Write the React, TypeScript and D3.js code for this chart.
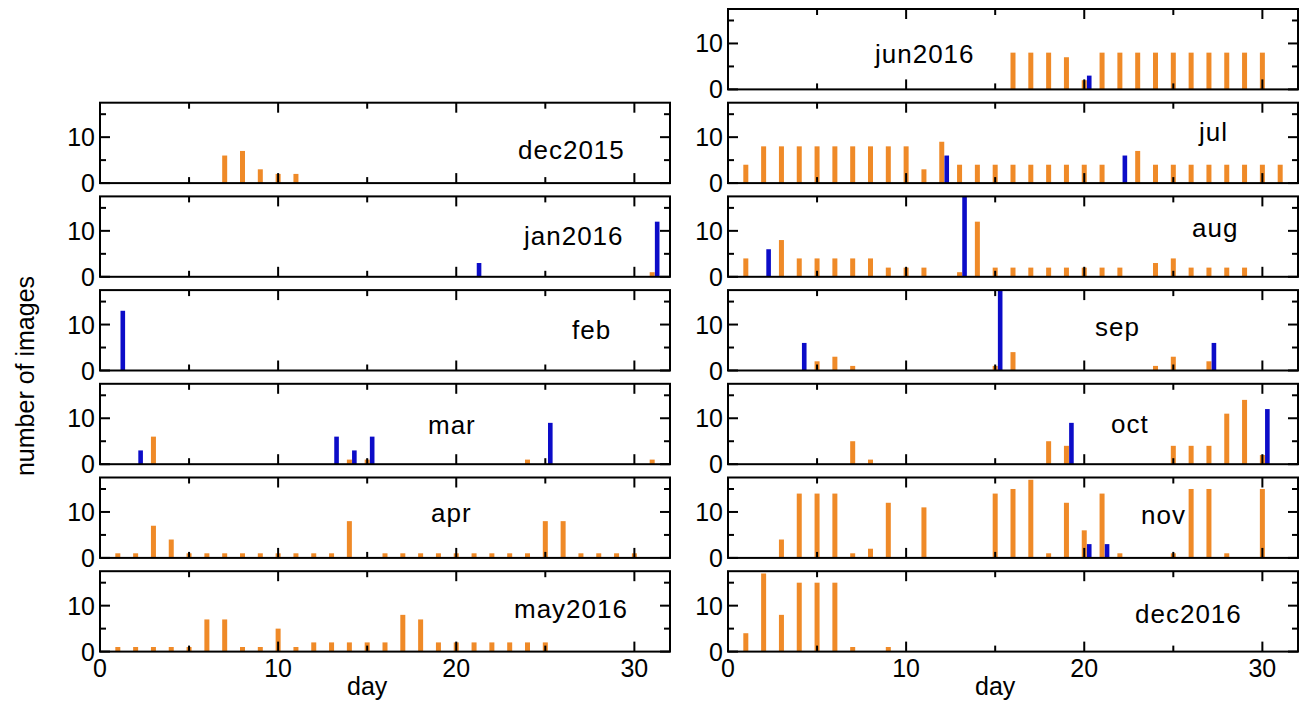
import React, { useEffect, useRef } from "react";
import * as d3 from "d3";

// [day, number of images]
type Bar = [number, number];

const dec2015Orange: Bar[] = [[7, 6], [8, 7], [9, 3], [10, 2], [11, 2]];
const dec2015Blue: Bar[] = [];

const jan2016Orange: Bar[] = [[31, 1]];
const jan2016Blue: Bar[] = [[21, 3], [31, 12]];

const febOrange: Bar[] = [];
const febBlue: Bar[] = [[1, 13]];

const marOrange: Bar[] = [[3, 6], [14, 1], [15, 1], [24, 1], [31, 1]];
const marBlue: Bar[] = [[2, 3], [13, 6], [14, 3], [15, 6], [25, 9]];

const aprOrange: Bar[] = [
  [1, 1], [2, 1], [3, 7], [4, 4], [5, 1], [6, 1], [7, 1], [8, 1], [9, 1], [10, 1],
  [11, 1], [12, 1], [13, 1], [14, 8], [16, 1], [17, 1], [18, 1], [19, 1], [20, 1],
  [21, 1], [22, 1], [23, 1], [24, 1], [25, 8], [26, 8], [27, 1], [28, 1], [29, 1], [30, 1],
];
const aprBlue: Bar[] = [];

const may2016Orange: Bar[] = [
  [1, 1], [2, 1], [3, 1], [4, 1], [5, 1], [6, 7], [7, 7], [8, 1], [9, 1], [10, 5],
  [11, 1], [12, 2], [13, 2], [14, 2], [15, 2], [16, 2], [17, 8], [18, 7], [19, 2],
  [20, 2], [21, 2], [22, 2], [23, 2], [24, 2], [25, 2],
];
const may2016Blue: Bar[] = [];

const jun2016Orange: Bar[] = [
  [16, 8], [17, 8], [18, 8], [19, 7], [20, 2], [21, 8], [22, 8], [23, 8], [24, 8],
  [25, 8], [26, 8], [27, 8], [28, 8], [29, 8], [30, 8],
];
const jun2016Blue: Bar[] = [[20, 3]];

const julOrange: Bar[] = [
  [1, 4], [2, 8], [3, 8], [4, 8], [5, 8], [6, 8], [7, 8], [8, 8], [9, 8], [10, 8],
  [11, 3], [12, 9], [13, 4], [14, 4], [15, 4], [16, 4], [17, 4], [18, 4], [19, 4],
  [20, 4], [21, 4], [23, 7], [24, 4], [25, 4], [26, 4], [27, 4], [28, 4], [29, 4],
  [30, 4], [31, 4],
];
const julBlue: Bar[] = [[12, 6], [22, 6]];

const augOrange: Bar[] = [
  [1, 4], [3, 8], [4, 4], [5, 4], [6, 4], [7, 4], [8, 4], [9, 2], [10, 2], [11, 2],
  [13, 1], [14, 12], [15, 2], [16, 2], [17, 2], [18, 2], [19, 2], [20, 2], [21, 2],
  [22, 2], [24, 3], [25, 4], [26, 2], [27, 2], [28, 2], [29, 2],
];
const augBlue: Bar[] = [[2, 6], [13, 19]];

const sepOrange: Bar[] = [[5, 2], [6, 3], [7, 1], [15, 1], [16, 4], [24, 1], [25, 3], [27, 2]];
const sepBlue: Bar[] = [[4, 6], [15, 19], [27, 6]];

const octOrange: Bar[] = [
  [7, 5], [8, 1], [18, 5], [19, 4], [25, 4], [26, 4], [27, 4], [28, 11], [29, 14], [30, 2],
];
const octBlue: Bar[] = [[19, 9], [30, 12]];

const novOrange: Bar[] = [
  [3, 4], [4, 14], [5, 14], [6, 14], [7, 1], [8, 2], [9, 12], [11, 11], [15, 14],
  [16, 15], [17, 17], [18, 1], [19, 12], [20, 6], [21, 14], [22, 1], [25, 1],
  [26, 15], [27, 15], [28, 1], [30, 15],
];
const novBlue: Bar[] = [[20, 3], [21, 3]];

const dec2016Orange: Bar[] = [[1, 4], [2, 17], [3, 8], [4, 15], [5, 15], [6, 15], [7, 1], [9, 1]];
const dec2016Blue: Bar[] = [];

const xTicks = [0, 5, 10, 15, 20, 25, 30];
const xTickLabels = [0, 10, 20, 30];
const yTicks = [0, 5, 10, 15];
const yTickLabels = [0, 10];

// col, row, label x (px from panel left), label baseline (px above zero line)
const panels = [
  { name: "dec2015", orange: dec2015Orange, blue: dec2015Blue, col: 0, row: 1, lx: 418, lb: 24 },
  { name: "jan2016", orange: jan2016Orange, blue: jan2016Blue, col: 0, row: 2, lx: 424, lb: 32 },
  { name: "feb", orange: febOrange, blue: febBlue, col: 0, row: 3, lx: 472, lb: 32 },
  { name: "mar", orange: marOrange, blue: marBlue, col: 0, row: 4, lx: 328, lb: 30 },
  { name: "apr", orange: aprOrange, blue: aprBlue, col: 0, row: 5, lx: 331, lb: 36 },
  { name: "may2016", orange: may2016Orange, blue: may2016Blue, col: 0, row: 6, lx: 414, lb: 34 },
  { name: "jun2016", orange: jun2016Orange, blue: jun2016Blue, col: 1, row: 0, lx: 147, lb: 26 },
  { name: "jul", orange: julOrange, blue: julBlue, col: 1, row: 1, lx: 471, lb: 42 },
  { name: "aug", orange: augOrange, blue: augBlue, col: 1, row: 2, lx: 464, lb: 40 },
  { name: "sep", orange: sepOrange, blue: sepBlue, col: 1, row: 3, lx: 367, lb: 35 },
  { name: "oct", orange: octOrange, blue: octBlue, col: 1, row: 4, lx: 383, lb: 31 },
  { name: "nov", orange: novOrange, blue: novBlue, col: 1, row: 5, lx: 413, lb: 34 },
  { name: "dec2016", orange: dec2016Orange, blue: dec2016Blue, col: 1, row: 6, lx: 407, lb: 29 },
];

const ORANGE = "#ef8a28";
const BLUE = "#0c0cc8";
const FONT = "'Liberation Sans', Arial, sans-serif";

const App = () => {
  const svgRef = useRef<SVGSVGElement>(null);

  useEffect(() => {
    document.body.style.margin = "0";
    const svg = d3.select(svgRef.current);
    svg.selectAll("*").remove();

    const colX = [100, 728];
    const colW = 570;
    const panelH = 80.4;
    const rowStep = 93.7;
    const top0 = 9;

    panels.forEach((p) => {
      const left = colX[p.col];
      const top = top0 + p.row * rowStep;
      const x = d3.scaleLinear().domain([0, 32]).range([left, left + colW]);
      const y = d3.scaleLinear().domain([0, 17.5]).range([top + panelH, top]).clamp(true);
      const g = svg.append("g");

      // bars
      g.selectAll(".o")
        .data(p.orange)
        .enter()
        .append("rect")
        .attr("x", (d) => x(d[0]) - 2.5)
        .attr("width", 5)
        .attr("y", (d) => y(d[1]))
        .attr("height", (d) => y(0) - y(d[1]))
        .attr("fill", ORANGE);
      g.selectAll(".b")
        .data(p.blue)
        .enter()
        .append("rect")
        .attr("x", (d) => x(d[0] + 0.28) - 2.3)
        .attr("width", 4.6)
        .attr("y", (d) => y(d[1]))
        .attr("height", (d) => y(0) - y(d[1]))
        .attr("fill", BLUE);

      // inward ticks on all four sides
      xTicks.forEach((t) => {
        const len = t % 10 === 0 ? 10 : 6;
        g.append("line").attr("x1", x(t)).attr("x2", x(t)).attr("y1", y(0)).attr("y2", y(0) - len);
        g.append("line").attr("x1", x(t)).attr("x2", x(t)).attr("y1", top).attr("y2", top + len);
      });
      yTicks.forEach((t) => {
        const len = t % 10 === 0 ? 10 : 6;
        g.append("line").attr("x1", left).attr("x2", left + len).attr("y1", y(t)).attr("y2", y(t));
        g.append("line").attr("x1", left + colW).attr("x2", left + colW - len).attr("y1", y(t)).attr("y2", y(t));
      });
      g.selectAll("line").attr("stroke", "#000").attr("stroke-width", 2);

      g.append("rect")
        .attr("x", left)
        .attr("y", top)
        .attr("width", colW)
        .attr("height", panelH)
        .attr("fill", "none")
        .attr("stroke", "#000")
        .attr("stroke-width", 2);

      // y tick labels
      yTickLabels.forEach((t) => {
        g.append("text")
          .attr("x", left - 5)
          .attr("y", y(t))
          .attr("dy", "0.36em")
          .attr("text-anchor", "end")
          .attr("font-family", FONT)
          .attr("font-size", 25)
          .text(t);
      });

      // month label
      g.append("text")
        .attr("x", left + p.lx)
        .attr("y", y(0) - p.lb)
        .attr("font-family", FONT)
        .attr("font-size", 26)
        .attr("letter-spacing", 1)
        .text(p.name);

      // bottom panels get the day axis
      if (p.row === 6) {
        xTickLabels.forEach((t) => {
          g.append("text")
            .attr("x", x(t))
            .attr("y", 677)
            .attr("text-anchor", "middle")
            .attr("font-family", FONT)
            .attr("font-size", 25)
            .text(t);
        });
        g.append("text")
          .attr("x", x(15))
          .attr("y", 695)
          .attr("text-anchor", "middle")
          .attr("font-family", FONT)
          .attr("font-size", 25)
          .text("day");
      }
    });

    svg
      .append("text")
      .attr("transform", "translate(34,376) rotate(-90)")
      .attr("text-anchor", "middle")
      .attr("font-family", FONT)
      .attr("font-size", 25)
      .text("number of images");
  }, []);

  return (
    <svg
      ref={svgRef}
      width={1302}
      height={703}
      style={{ position: "absolute", left: 0, top: 0, background: "#fff" }}
    ></svg>
  );
};

export default App;
